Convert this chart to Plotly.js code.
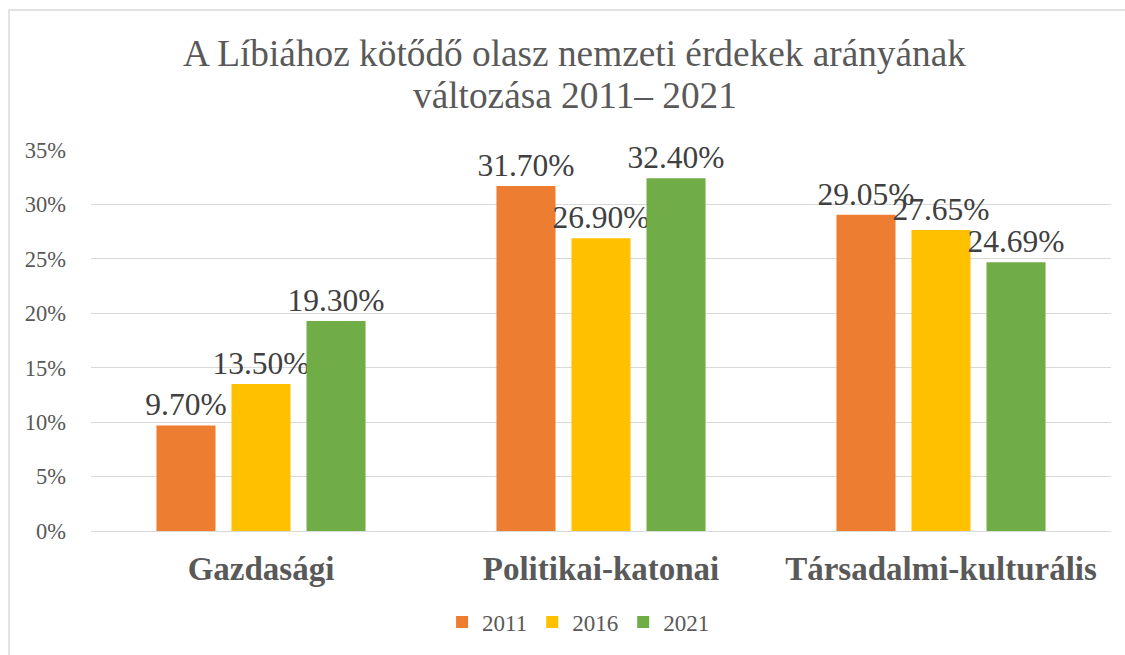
<!DOCTYPE html>
<html>
<head>
<meta charset="utf-8">
<script src="https://cdn.plot.ly/plotly-3.0.1.min.js"></script>
<style>html,body{margin:0;padding:0;background:#fff;}#chart{width:1125px;height:655px;}</style>
</head>
<body>
<div id="chart"></div>
<script>
const categories = ["Gazdasági", "Politikai-katonai", "Társadalmi-kulturális"];
const series2011 = [9.70, 31.70, 29.05];
const series2016 = [13.50, 26.90, 27.65];
const series2021 = [19.30, 32.40, 24.69];
const seriesNames = ["2011", "2016", "2021"];
const seriesColors = ["#ED7D31", "#FFC000", "#70AD47"];
const tickValues = [0, 5, 10, 15, 20, 25, 30, 35];
const titleLines = ["A Líbiához kötődő olasz nemzeti érdekek arányának", "változása 2011– 2021"];

const serif = "'Liberation Serif', 'Times New Roman', serif";
const allSeries = [series2011, series2016, series2021];
const traces = allSeries.map((vals, i) => ({
  type: "bar",
  name: seriesNames[i],
  x: categories,
  y: vals,
  text: vals.map(v => v.toFixed(2) + "%"),
  textposition: "outside",
  constraintext: "none",
  cliponaxis: false,
  textfont: {family: serif, size: 31.5, color: "#404040"},
  marker: {color: seriesColors[i]},
  hoverinfo: "none"
}));

const layout = {
  width: 1125,
  height: 655,
  margin: {l: 91, r: 14, t: 150, b: 124},
  paper_bgcolor: "#ffffff",
  plot_bgcolor: "#ffffff",
  font: {family: serif, color: "#595959"},
  barmode: "group",
  bargap: 0.338,
  bargroupgap: 0.213,
  xaxis: {
    type: "category",
    tickfont: {family: serif, size: 33, color: "#595959", weight: "bold"},
    showline: true, linecolor: "#d9d9d9", linewidth: 1,
    ticks: "", ticklabelstandoff: 8
  },
  yaxis: {
    range: [0, 35],
    tickvals: tickValues,
    ticktext: tickValues.map(v => v + "%"),
    tickfont: {family: serif, size: 22.5, color: "#595959"},
    showgrid: true, gridcolor: "#d9d9d9", gridwidth: 1,
    zeroline: false, showline: false, ticks: "",
    ticklabelstandoff: 24
  },
  legend: {
    orientation: "h",
    x: 0.478, xanchor: "center",
    y: -0.239, yanchor: "middle",
    font: {family: serif, size: 23, color: "#595959"},
    itemwidth: 30,
    traceorder: "normal"
  },
  showlegend: true,
  annotations: titleLines.map((t, i) => ({
    text: t, xref: "paper", yref: "paper",
    x: 0.4745, y: i === 0 ? 1.2545 : 1.1443,
    xanchor: "center", yanchor: "middle", showarrow: false,
    font: {family: serif, size: 37.3, color: "#595959"}
  })),
  shapes: [{
    type: "rect", xref: "paper", yref: "paper",
    x0: -0.0804, x1: 1.06, y0: -0.36, y1: 1.3675,
    line: {color: "#d9d9d9", width: 1.5}, fillcolor: "rgba(0,0,0,0)", layer: "below"
  }]
};

Plotly.newPlot("chart", traces, layout, {displayModeBar: false, staticPlot: true});
</script>
</body>
</html>
